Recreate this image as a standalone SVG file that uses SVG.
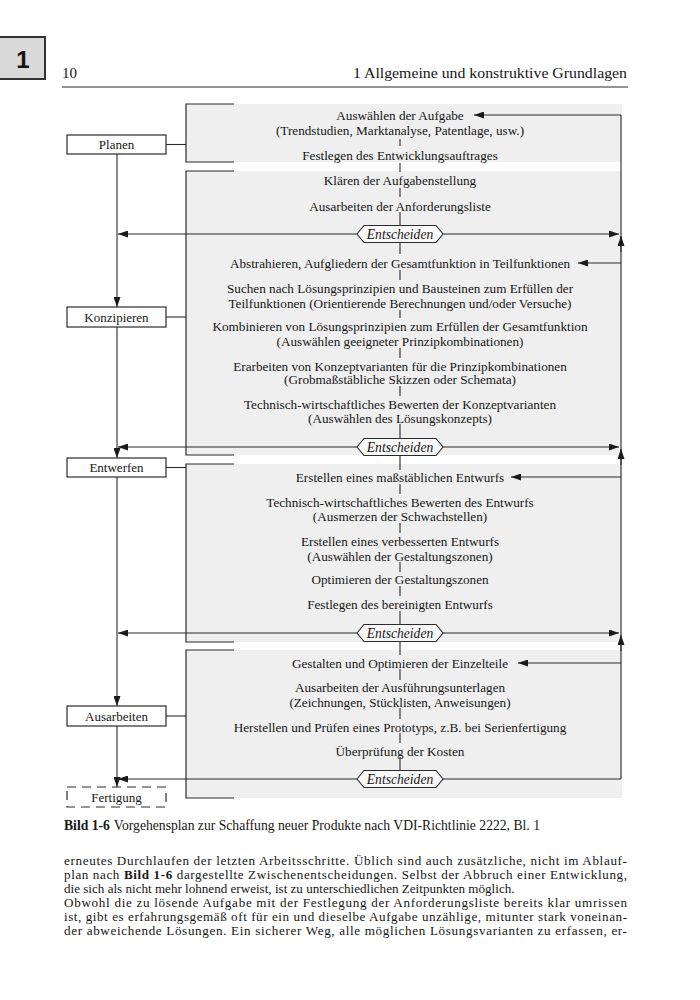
<svg xmlns="http://www.w3.org/2000/svg" width="700" height="1000" viewBox="0 0 700 1000">
<style>
text{font-family:"Liberation Serif","Times New Roman",serif;fill:#161616}
.t{font-size:13.2px;text-anchor:middle}
.ent{font-size:13.6px;font-style:italic;text-anchor:middle}
.lbl{font-size:13px;text-anchor:middle}
.box{fill:#ffffff;stroke:#2a2a2a;stroke-width:1.2}
.dbox{fill:#ffffff;stroke:#2a2a2a;stroke-width:1.2;stroke-dasharray:9 6}
.panel{fill:#efefef;stroke:none}
.br{fill:none;stroke:#2a2a2a;stroke-width:1.2}
.hex{fill:#f8f8f8;stroke:#2a2a2a;stroke-width:1.1}
.ln{fill:none;stroke:#2a2a2a;stroke-width:1.1}
.ar{fill:none;stroke:#2a2a2a;stroke-width:1.1;marker-end:url(#ah)}
.body{font-size:13.1px}
</style>
<defs>
<marker id="ah" viewBox="0 0 10 7" refX="10" refY="3.5" markerWidth="10" markerHeight="7" markerUnits="userSpaceOnUse" orient="auto">
<path d="M0,0 L10,3.5 L0,7 z" fill="#1a1a1a"/>
</marker>
</defs>
<rect width="700" height="1000" fill="#ffffff"/>

<!-- page header -->
<g id="header">
<rect x="-3" y="37" width="48" height="42" fill="#d9d9d9" stroke="#333333" stroke-width="2"/>
<text x="23" y="68" style="font-family:'Liberation Sans',Arial,sans-serif;font-size:24px;font-weight:bold;text-anchor:middle">1</text>
<text x="62" y="78" style="font-size:15px">10</text>
<text x="627" y="78" style="font-size:15.5px;text-anchor:end" textLength="274" lengthAdjust="spacingAndGlyphs">1 Allgemeine und konstruktive Grundlagen</text>
<line x1="62" y1="87" x2="628" y2="87" stroke="#2a2a2a" stroke-width="1.2"/>
</g>

<!-- gray panels with brackets -->
<g id="panel-planen">
<rect class="panel" x="186" y="104" width="436" height="58"/>
<path class="br" d="M234,104 H186 V162 H234"/>
</g>
<g id="panel-konzipieren">
<rect class="panel" x="186" y="171" width="436" height="284"/>
<path class="br" d="M234,171 H186 V455 H234"/>
</g>
<g id="panel-entwerfen">
<rect class="panel" x="186" y="464" width="436" height="178"/>
<path class="br" d="M234,464 H186 V642 H234"/>
</g>
<g id="panel-ausarbeiten">
<rect class="panel" x="186" y="650" width="436" height="148"/>
<path class="br" d="M234,650 H186 V798 H234"/>
</g>

<!-- connectors -->
<g id="connectors">
<line class="ln" x1="166" y1="144.5" x2="186" y2="144.5"/>
<line class="ln" x1="166" y1="317" x2="186" y2="317"/>
<line class="ln" x1="166" y1="467.5" x2="186" y2="467.5"/>
<line class="ln" x1="166" y1="716" x2="186" y2="716"/>
<line class="ar" x1="117" y1="154" x2="117" y2="307"/>
<line class="ar" x1="117" y1="327" x2="117" y2="458"/>
<line class="ar" x1="117" y1="477" x2="117" y2="706"/>
<line class="ar" x1="117" y1="726" x2="117" y2="787"/>
<line class="ar" x1="357" y1="234" x2="118" y2="234"/>
<line class="ar" x1="357" y1="447" x2="118" y2="447"/>
<line class="ar" x1="357" y1="633" x2="118" y2="633"/>
<line class="ar" x1="357" y1="779" x2="118" y2="779"/>
<line class="ar" x1="443" y1="234" x2="619" y2="234"/>
<line class="ar" x1="443" y1="447" x2="619" y2="447"/>
<line class="ar" x1="443" y1="633" x2="619" y2="633"/>
<line class="ln" x1="443" y1="779" x2="621" y2="779"/>
<line class="ln" x1="621" y1="115" x2="621" y2="779"/>
<line class="ar" x1="621" y1="252" x2="621" y2="236"/>
<line class="ar" x1="621" y1="465" x2="621" y2="449"/>
<line class="ar" x1="621" y1="651" x2="621" y2="635"/>
<line class="ar" x1="621" y1="115" x2="474" y2="115"/>
<line class="ar" x1="621" y1="263" x2="578" y2="263"/>
<line class="ar" x1="621" y1="477" x2="511" y2="477"/>
<line class="ar" x1="621" y1="663" x2="518" y2="663"/>
<path class="ln" d="M400,139 V146 M400,163 V172 M400,188 V197 M400,212 V225.5 M400,242.5 V254 M400,270 V280 M400,310 V318 M400,348 V358 M400,386 V396 M400,424 V438.5 M400,455.5 V470 M400,484 V494 M400,523 V533 M400,562 V572 M400,586 V596 M400,611 V624.5 M400,641.5 V655 M400,669 V680 M400,708 V719 M400,733 V743 M400,757 V770.5"/>
</g>

<!-- phase boxes -->
<g id="node-planen">
<rect class="box" x="67" y="135" width="99" height="19"/>
<text class="lbl" x="116.5" y="149">Planen</text>
</g>
<g id="node-konzipieren">
<rect class="box" x="67" y="307" width="99" height="20"/>
<text class="lbl" x="116.5" y="321.5">Konzipieren</text>
</g>
<g id="node-entwerfen">
<rect class="box" x="67" y="458" width="99" height="19"/>
<text class="lbl" x="116.5" y="472">Entwerfen</text>
</g>
<g id="node-ausarbeiten">
<rect class="box" x="67" y="706" width="99" height="20"/>
<text class="lbl" x="116.5" y="720.5">Ausarbeiten</text>
</g>
<g id="node-fertigung">
<rect class="dbox" x="67" y="787" width="99" height="20"/>
<text class="lbl" x="116.5" y="801.5">Fertigung</text>
</g>

<!-- steps -->
<g id="steps-planen">
<text class="t" x="400" y="119.5">Auswählen der Aufgabe</text>
<text class="t" x="400" y="134.5">(Trendstudien, Marktanalyse, Patentlage, usw.)</text>
<text class="t" x="400" y="159.5">Festlegen des Entwicklungsauftrages</text>
</g>
<g id="steps-konzipieren">
<text class="t" x="400" y="184.5">Klären der Aufgabenstellung</text>
<text class="t" x="400" y="210.5">Ausarbeiten der Anforderungsliste</text>
<text class="t" x="400" y="267.5">Abstrahieren, Aufgliedern der Gesamtfunktion in Teilfunktionen</text>
<text class="t" x="400" y="292.5">Suchen nach Lösungsprinzipien und Bausteinen zum Erfüllen der</text>
<text class="t" x="400" y="307.5">Teilfunktionen (Orientierende Berechnungen und/oder Versuche)</text>
<text class="t" x="400" y="330.5">Kombinieren von Lösungsprinzipien zum Erfüllen der Gesamtfunktion</text>
<text class="t" x="400" y="345.5">(Auswählen geeigneter Prinzipkombinationen)</text>
<text class="t" x="400" y="370.5">Erarbeiten von Konzeptvarianten für die Prinzipkombinationen</text>
<text class="t" x="400" y="383.5">(Grobmaßstäbliche Skizzen oder Schemata)</text>
<text class="t" x="400" y="408.5">Technisch-wirtschaftliches Bewerten der Konzeptvarianten</text>
<text class="t" x="400" y="422.5">(Auswählen des Lösungskonzepts)</text>
</g>
<g id="steps-entwerfen">
<text class="t" x="400" y="481.5">Erstellen eines maßstäblichen Entwurfs</text>
<text class="t" x="400" y="506.5">Technisch-wirtschaftliches Bewerten des Entwurfs</text>
<text class="t" x="400" y="520.5">(Ausmerzen der Schwachstellen)</text>
<text class="t" x="400" y="545.5">Erstellen eines verbesserten Entwurfs</text>
<text class="t" x="400" y="560.5">(Auswählen der Gestaltungszonen)</text>
<text class="t" x="400" y="583.5">Optimieren der Gestaltungszonen</text>
<text class="t" x="400" y="608.5">Festlegen des bereinigten Entwurfs</text>
</g>
<g id="steps-ausarbeiten">
<text class="t" x="400" y="667.5">Gestalten und Optimieren der Einzelteile</text>
<text class="t" x="400" y="691.5">Ausarbeiten der Ausführungsunterlagen</text>
<text class="t" x="400" y="706.5">(Zeichnungen, Stücklisten, Anweisungen)</text>
<text class="t" x="400" y="731.5">Herstellen und Prüfen eines Prototyps, z.B. bei Serienfertigung</text>
<text class="t" x="400" y="755.5">Überprüfung der Kosten</text>
</g>

<!-- decisions -->
<g id="decision-1">
<polygon class="hex" points="357,234 364,225.5 436,225.5 443,234 436,242.5 364,242.5"/>
<text class="ent" x="400" y="238.5">Entscheiden</text>
</g>
<g id="decision-2">
<polygon class="hex" points="357,447 364,438.5 436,438.5 443,447 436,455.5 364,455.5"/>
<text class="ent" x="400" y="451.5">Entscheiden</text>
</g>
<g id="decision-3">
<polygon class="hex" points="357,633 364,624.5 436,624.5 443,633 436,641.5 364,641.5"/>
<text class="ent" x="400" y="637.5">Entscheiden</text>
</g>
<g id="decision-4">
<polygon class="hex" points="357,779 364,770.5 436,770.5 443,779 436,787.5 364,787.5"/>
<text class="ent" x="400" y="783.5">Entscheiden</text>
</g>

<!-- caption and body text -->
<g id="caption">
<text x="64" y="830" style="font-size:13.8px" textLength="476" lengthAdjust="spacingAndGlyphs"><tspan font-weight="bold">Bild 1-6</tspan><tspan dx="4">Vorgehensplan zur Schaffung neuer Produkte nach VDI-Richtlinie 2222, Bl. 1</tspan></text>
</g>
<g id="body-text">
<text class="body" x="64" y="865" textLength="563" lengthAdjust="spacing">erneutes Durchlaufen der letzten Arbeitsschritte. Üblich sind auch zusätzliche, nicht im Ablauf-</text>
<text class="body" x="64" y="879" textLength="563" lengthAdjust="spacing">plan nach <tspan font-weight="bold">Bild 1-6</tspan> dargestellte Zwischenentscheidungen. Selbst der Abbruch einer Entwicklung,</text>
<text class="body" x="64" y="893">die sich als nicht mehr lohnend erweist, ist zu unterschiedlichen Zeitpunkten möglich.</text>
<text class="body" x="64" y="907" textLength="563" lengthAdjust="spacing">Obwohl die zu lösende Aufgabe mit der Festlegung der Anforderungsliste bereits klar umrissen</text>
<text class="body" x="64" y="921" textLength="563" lengthAdjust="spacing">ist, gibt es erfahrungsgemäß oft für ein und dieselbe Aufgabe unzählige, mitunter stark voneinan-</text>
<text class="body" x="64" y="935" textLength="563" lengthAdjust="spacing">der abweichende Lösungen. Ein sicherer Weg, alle möglichen Lösungsvarianten zu erfassen, er-</text>
</g>
</svg>
